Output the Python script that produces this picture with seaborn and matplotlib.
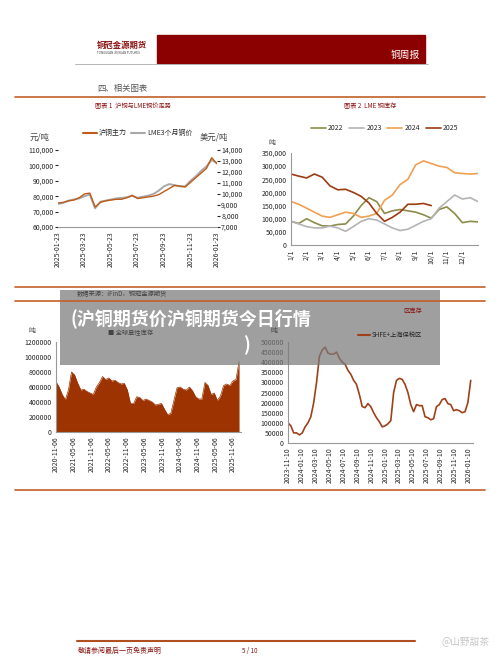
import numpy as np
import pandas as pd
import matplotlib
matplotlib.use("Agg")
import matplotlib.pyplot as plt
import matplotlib.dates as mdates
from matplotlib.ticker import FuncFormatter
import seaborn as sns

sns.set_style("white")
plt.rcParams['font.family'] = ['Noto Sans CJK SC', 'DejaVu Sans']

# ---------- data ----------
shfe_price = [75500, 76000, 77000, 77500, 79000, 81500, 82000, 73000, 76000, 77000, 77500, 78000,
              78000, 79000, 80500, 78500, 79000, 79500, 80000, 81000, 83000, 85000, 87000, 86500,
              86000, 89000, 92000, 95000, 98000, 105000, 101000]
lme_price = [9100, 9200, 9400, 9500, 9600, 9800, 9950, 8700, 9300, 9400, 9500, 9600,
             9650, 9700, 9850, 9650, 9750, 9850, 10000, 10300, 10700, 10900, 10800, 10700,
             10700, 11200, 11600, 12100, 12500, 13100, 12800]
p_start, p_end = "2025-01-23", "2026-01-23"

years = ["2022", "2023", "2024", "2025"]
stock_2022 = [90, 82, 100, 85, 73, 72, 78, 80, 110, 150, 180, 165, 120, 130, 135, 130, 125, 115, 102, 135, 145, 120, 85, 90, 88]
stock_2023 = [90, 80, 70, 65, 65, 72, 65, 52, 70, 90, 100, 95, 80, 65, 55, 60, 75, 90, 100, 140, 165, 190, 175, 180, 165]
stock_2024 = [165, 155, 140, 125, 110, 105, 115, 125, 120, 105, 110, 120, 170, 190, 230, 250, 305, 320, 310, 300, 295, 275, 272, 270, 272]
stock_2025 = [270, 262, 255, 270, 258, 225, 210, 212, 200, 185, 160, 120, 90, 105, 125, 155, 155, 158, 150]
year_colors = ["#8c8c4a", "#b4b4b4", "#f0a050", "#9c3a10"]

global_stock = [670, 600, 500, 430, 560, 800, 760, 650, 560, 570, 540, 520, 500, 600, 660, 740, 700, 720,
                680, 690, 660, 640, 650, 560, 380, 380, 470, 460, 420, 440, 420, 400, 360, 370, 380, 300,
                230, 250, 420, 590, 600, 570, 560, 600, 550, 470, 440, 440, 660, 620, 500, 520, 420, 480,
                620, 640, 620, 680, 700, 940]
g_start, g_end = "2020-11-06", "2026-01-06"

shfe_stock = [100, 85, 50, 50, 40, 50, 80, 100, 130, 200, 300, 430, 460, 475, 445, 440, 440, 450, 420, 400,
              390, 360, 340, 310, 290, 240, 180, 175, 195, 180, 150, 125, 105, 80, 85, 95, 110, 250, 310,
              320, 315, 290, 250, 190, 155, 190, 185, 185, 130, 125, 115, 120, 180, 190, 215, 220, 195,
              190, 160, 165, 160, 150, 155, 200, 310]
s_start, s_end = "2023-11-10", "2026-01-20"

W, H = 500, 657
fig = plt.figure(figsize=(5, 6.57), dpi=100)

def ax_at(x0, y0, x1, y1):
    return fig.add_axes([x0 / W, 1 - y1 / H, (x1 - x0) / W, (y1 - y0) / H])

def fy(y):
    return 1 - y / H

def hline(y, x0, x1, c="#c0602a", lw=1.2):
    fig.add_artist(plt.Line2D([x0 / W, x1 / W], [fy(y), fy(y)], color=c, lw=lw))

RED = "#8b1010"
tick_kw = dict(labelsize=5, length=2, pad=1)
thou = FuncFormatter(lambda v, p: f"{int(v):,}")

def clean(a):
    a.set_xlabel(""); a.set_ylabel("")

# ---------- header ----------
fig.add_artist(plt.Rectangle((157 / W, fy(63)), (425 - 157) / W, 28 / H, color="#8b0000"))
fig.text(420 / W, fy(55), "铜周报", color="white", fontsize=7, ha="right", va="center")
fig.text(97 / W, fy(45), "铜冠金源期货", color=RED, fontsize=6, va="center", weight="bold")
fig.text(97 / W, fy(53), "TONGGUAN JINYUAN FUTURES", color="#444", fontsize=2.2, va="center")
hline(63.5, 75, 428, c="#aaaaaa", lw=0.6)
fig.text(97 / W, fy(88), "四、相关图表", fontsize=6, color="#555", va="center")
hline(97, 15, 485)
fig.text(133 / W, fy(106), "图表 1  沪铜与LME铜价走势", fontsize=4.5, color=RED, ha="center", va="center")
fig.text(370 / W, fy(106), "图表 2  LME 铜库存", fontsize=4.5, color=RED, ha="center", va="center")

# ---------- chart 1 ----------
ax1 = ax_at(58, 150, 217, 227)
d1 = pd.date_range(p_start, p_end, periods=len(shfe_price))
ax1b = ax1.twinx()
sns.lineplot(x=d1, y=lme_price, ax=ax1b, color="#a8a8a8", lw=1.4)
sns.lineplot(x=d1, y=shfe_price, ax=ax1, color="#c05a18", lw=1.0)
ax1.set_zorder(ax1b.get_zorder() + 1); ax1.patch.set_visible(False)
ax1.set_ylim(60000, 110000); ax1b.set_ylim(7000, 14000)
ax1.set_yticks(np.arange(60000, 110001, 10000)); ax1b.set_yticks(np.arange(7000, 14001, 1000))
ax1.yaxis.set_major_formatter(thou); ax1b.yaxis.set_major_formatter(thou)
ax1.set_xlim(pd.Timestamp(p_start), pd.Timestamp(p_end))
ax1.set_xticks(pd.date_range("2025-01-01", "2026-01-01", freq="2MS") + pd.Timedelta(days=22))
ax1.xaxis.set_major_formatter(mdates.DateFormatter("%Y-%m-%d"))
ax1.tick_params(axis="x", rotation=90, **tick_kw); ax1.tick_params(axis="y", **tick_kw)
ax1b.tick_params(axis="y", **tick_kw)
for a in (ax1, ax1b):
    for s in a.spines.values(): s.set_visible(False)
    clean(a)
ax1.spines["bottom"].set_visible(True); ax1.spines["bottom"].set_color("#999")
fig.text(30 / W, fy(137), "元/吨", fontsize=6, color="#444", va="center")
fig.text(200 / W, fy(137), "美元/吨", fontsize=6, color="#444", va="center")
fig.legend(handles=[plt.Line2D([], [], color="#c05a18", lw=1.5), plt.Line2D([], [], color="#a8a8a8", lw=1.5)],
           labels=["沪铜主力", "LME3个月铜价"], loc="center", bbox_to_anchor=(138 / W, fy(133)),
           ncol=2, frameon=False, fontsize=5, handlelength=2, columnspacing=0.6, handletextpad=0.3)

# ---------- chart 2 ----------
ax2 = ax_at(291, 153, 478, 245)
for yr, vals, c in zip(years, [stock_2022, stock_2023, stock_2024, stock_2025], year_colors):
    x = np.arange(len(vals)) / 2.0
    sns.lineplot(x=x, y=np.array(vals) * 1000, ax=ax2, color=c, lw=1.2, label=yr)
clean(ax2)
ax2.set_xlim(0, 12); ax2.set_ylim(0, 350000)
ax2.set_yticks(np.arange(0, 350001, 50000)); ax2.yaxis.set_major_formatter(thou)
ax2.set_xticks(np.arange(12)); ax2.set_xticklabels([f"{m}/1" for m in range(1, 13)])
ax2.tick_params(axis="x", rotation=90, **tick_kw); ax2.tick_params(axis="y", **tick_kw)
for s in ("top", "right"): ax2.spines[s].set_visible(False)
for s in ("left", "bottom"): ax2.spines[s].set_color("#999")
ax2.legend(loc="center", bbox_to_anchor=(0.5, 1.27), ncol=4, frameon=False, fontsize=5,
           handlelength=2.2, columnspacing=0.8, handletextpad=0.3)
fig.text(268 / W, fy(143), "吨", fontsize=5, color="#444", va="center")

# ---------- middle lines ----------
hline(287, 15, 485)
fig.text(77 / W, fy(293), "数据来源：iFinD，铜冠金源期货", fontsize=4.5, color="#444", va="center")
hline(301, 15, 485)
fig.text(422 / W, fy(311), "区库存", fontsize=4.5, color=RED, ha="right", va="center")

# ---------- chart 3 ----------
ax3 = ax_at(56, 342, 241, 432)
d3 = pd.date_range(g_start, g_end, periods=len(global_stock))
g = np.array(global_stock) * 1000
ax3.fill_between(d3, 0, g, color="#9c3300", lw=0)
sns.lineplot(x=d3, y=g, ax=ax3, color="#9c3300", lw=0.5)
clean(ax3)
ax3.set_xlim(pd.Timestamp(g_start), pd.Timestamp(g_end) + pd.Timedelta(days=20))
ax3.set_ylim(0, 1200000); ax3.set_yticks(np.arange(0, 1200001, 200000))
ax3.yaxis.set_major_formatter(FuncFormatter(lambda v, p: f"{int(v)}"))
ax3.set_xticks(pd.date_range("2020-11-01", "2025-11-06", freq="6MS") + pd.Timedelta(days=5))
ax3.xaxis.set_major_formatter(mdates.DateFormatter("%Y-%m-%d"))
ax3.tick_params(axis="x", rotation=90, **tick_kw); ax3.tick_params(axis="y", **tick_kw)
for s in ("top", "right"): ax3.spines[s].set_visible(False)
for s in ("left", "bottom"): ax3.spines[s].set_color("#999")
fig.text(28 / W, fy(331), "吨", fontsize=5, color="#444", va="center")
fig.text(108 / W, fy(333), "■ 全球显性库存", fontsize=4.5, color="#444", va="center")

# ---------- chart 4 ----------
ax4 = ax_at(288, 342, 473, 443)
d4 = pd.date_range(s_start, s_end, periods=len(shfe_stock))
sns.lineplot(x=d4, y=np.array(shfe_stock) * 1000, ax=ax4, color="#a0401a", lw=1.2)
clean(ax4)
ax4.set_xlim(pd.Timestamp(s_start), pd.Timestamp(s_end) + pd.Timedelta(days=10))
ax4.set_ylim(0, 500000); ax4.set_yticks(np.arange(0, 500001, 50000))
ax4.yaxis.set_major_formatter(FuncFormatter(lambda v, p: f"{int(v)}"))
ax4.set_xticks(pd.date_range("2023-11-01", "2026-01-10", freq="2MS") + pd.Timedelta(days=9))
ax4.xaxis.set_major_formatter(mdates.DateFormatter("%Y-%m-%d"))
ax4.tick_params(axis="x", rotation=90, **tick_kw); ax4.tick_params(axis="y", **tick_kw)
for s in ("top", "right"): ax4.spines[s].set_visible(False)
for s in ("left", "bottom"): ax4.spines[s].set_color("#999")
fig.text(270 / W, fy(331), "吨", fontsize=5, color="#444", va="center")
fig.legend(handles=[plt.Line2D([], [], color="#a0401a", lw=1.5)], labels=["SHFE+上海保税区"],
           loc="center", bbox_to_anchor=(390 / W, fy(335)), frameon=False, fontsize=4.5,
           handlelength=2, handletextpad=0.3)

hline(490, 15, 485)

# ---------- overlay banner ----------
fig.add_artist(plt.Rectangle((60 / W, fy(365)), (440 - 60) / W, 75 / H, color="#7a7a7a", alpha=0.72, lw=0))
fig.text(70 / W, fy(318), "(沪铜期货价沪铜期货今日行情", fontsize=13, color="white", weight="bold", va="center")
fig.text(243 / W, fy(345), ")", fontsize=13, color="white", weight="bold", va="center")

# ---------- footer ----------
hline(641, 77, 415, c="#b05020", lw=1.5)
fig.text(78 / W, fy(651), "敬请参阅最后一页免责声明", fontsize=5, color=RED, style="italic", va="center")
fig.text(250 / W, fy(651), "5 / 10", fontsize=4.5, color=RED, ha="center", va="center")
fig.text(490 / W, fy(641), "@山野甜茶", fontsize=7, color="#c8c8c8", ha="right", va="center")

fig.savefig("out.png", dpi=100, facecolor="white")
